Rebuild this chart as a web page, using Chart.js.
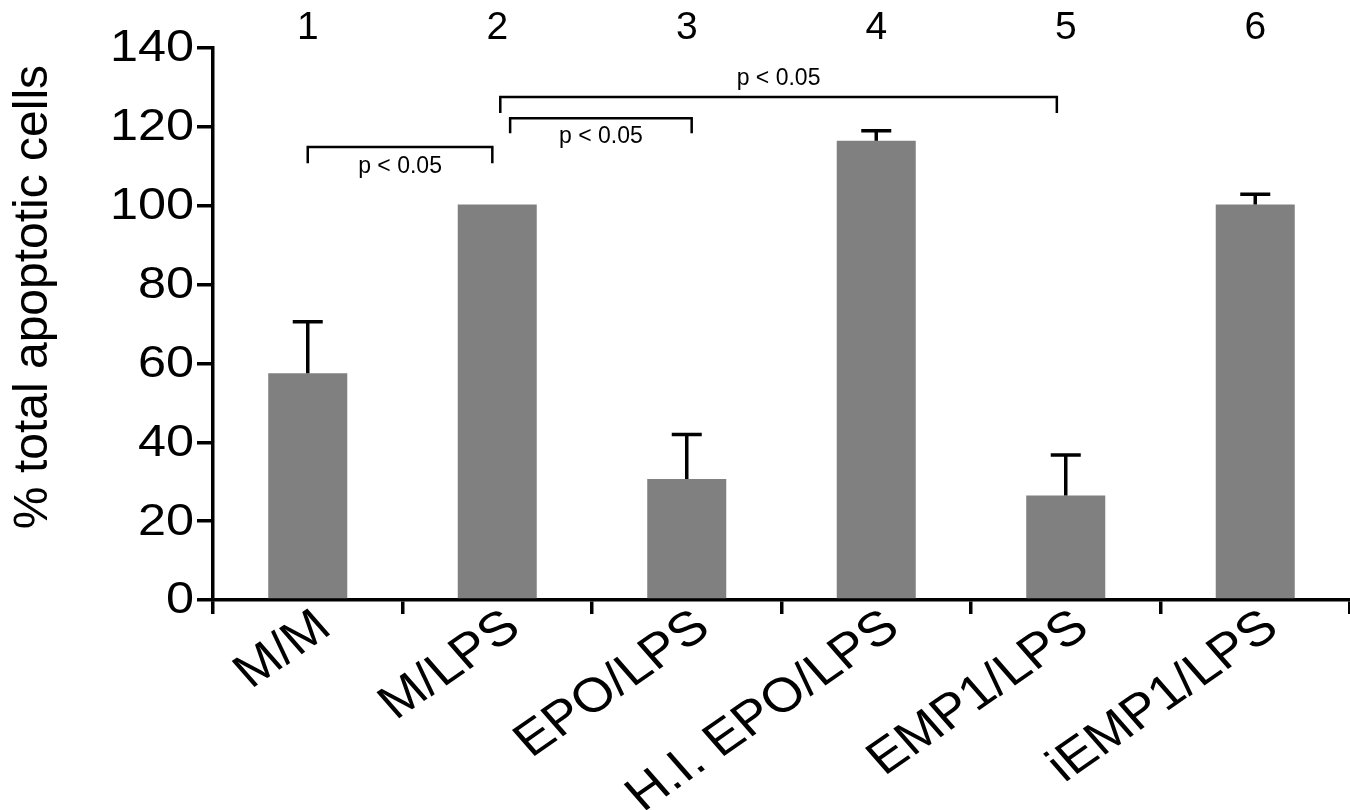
<!DOCTYPE html>
<html>
<head>
<meta charset="utf-8">
<script src="https://cdn.jsdelivr.net/npm/chart.js"></script>
<style>
html, body { margin: 0; padding: 0; background: #fff; }
canvas { display: block; }
</style>
</head>
<body>
<canvas id="chart" width="1350" height="810"></canvas>
<script>
const groups = ['M/M', 'M/LPS', 'EPO/LPS', 'H.I. EPO/LPS', 'EMP1/LPS', 'iEMP1/LPS'];
const groupNumbers = ['1', '2', '3', '4', '5', '6'];
const apoptosis = [57.5, 100.3, 30.7, 116.5, 26.5, 100.3];
const errorUpper = [70.6, 100.3, 42.0, 119.0, 36.8, 102.9];
const yTickValues = [0, 20, 40, 60, 80, 100, 120, 140];
const yTitle = '% total apoptotic cells';

// significance brackets, in category index / data units
const bracketFrom = [0, 1.068, 1.016];
const bracketTo = [0.974, 2.026, 3.953];
const bracketLine = [114.9, 122.2, 127.6];
const bracketLeg = [110.8, 118.4, 123.5];
const bracketText = [110.0, 117.4, 132.1];
const bracketLabel = ['p < 0.05', 'p < 0.05', 'p < 0.05'];

const FONT = '"Liberation Sans", Arial, Helvetica, sans-serif';
const STRETCH = 1.12; // the original figure is a bit wider than tall

const errorBars = {
    id: 'errorBars',
    afterDatasetsDraw(chart) {
        const ctx = chart.ctx;
        const y = chart.scales.y;
        const meta = chart.getDatasetMeta(0);
        ctx.save();
        ctx.strokeStyle = '#000';
        ctx.lineWidth = 3.5;
        meta.data.forEach((bar, i) => {
            if (errorUpper[i] <= apoptosis[i]) return;
            const top = y.getPixelForValue(errorUpper[i]);
            ctx.beginPath();
            ctx.moveTo(bar.x, bar.y);
            ctx.lineTo(bar.x, top);
            ctx.moveTo(bar.x - 15, top);
            ctx.lineTo(bar.x + 15, top);
            ctx.stroke();
        });
        ctx.restore();
    }
};

const brackets = {
    id: 'brackets',
    afterDatasetsDraw(chart) {
        const ctx = chart.ctx;
        const x = chart.scales.x, y = chart.scales.y;
        ctx.save();
        ctx.strokeStyle = '#000';
        ctx.lineWidth = 2.5;
        ctx.fillStyle = '#000';
        ctx.font = '23px ' + FONT;
        ctx.textAlign = 'center';
        ctx.textBaseline = 'middle';
        bracketLabel.forEach((label, i) => {
            const x1 = x.getPixelForValue(bracketFrom[i]);
            const x2 = x.getPixelForValue(bracketTo[i]);
            const yl = y.getPixelForValue(bracketLine[i]);
            const yg = y.getPixelForValue(bracketLeg[i]);
            ctx.beginPath();
            ctx.moveTo(x1, yg);
            ctx.lineTo(x1, yl);
            ctx.lineTo(x2, yl);
            ctx.lineTo(x2, yg);
            ctx.stroke();
            ctx.fillText(label, (x1 + x2) / 2, y.getPixelForValue(bracketText[i]));
        });
        ctx.restore();
    }
};

// tick labels and y title, drawn slightly stretched sideways like the source
const axisText = {
    id: 'axisText',
    afterDraw(chart) {
        const ctx = chart.ctx;
        const area = chart.chartArea;
        const x = chart.scales.x, y = chart.scales.y;
        ctx.save();
        ctx.fillStyle = '#000';

        ctx.font = '45px ' + FONT;
        ctx.textAlign = 'right';
        ctx.textBaseline = 'middle';
        y.ticks.forEach((t, i) => {
            ctx.save();
            ctx.translate(y.right - 19, y.getPixelForTick(i) + 1);
            ctx.scale(STRETCH, 1);
            ctx.fillText(String(t.value), 0, 0);
            ctx.restore();
        });

        ctx.font = '48px ' + FONT;
        ctx.textBaseline = 'alphabetic';
        const cap = 48 * 0.716;
        x.ticks.forEach((t, i) => {
            ctx.save();
            ctx.translate(x.getPixelForTick(i) + 2, x.top + 5);
            ctx.scale(STRETCH, 1);
            ctx.rotate(-38 * Math.PI / 180);
            ctx.fillText(groups[i], 0, cap);
            ctx.restore();
        });

        ctx.translate(y.left + 34, (area.top + area.bottom) / 2 - 27);
        ctx.rotate(-Math.PI / 2);
        ctx.font = '48px ' + FONT;
        ctx.textAlign = 'center';
        ctx.textBaseline = 'middle';
        ctx.fillText(yTitle, 0, 0);
        ctx.restore();
    }
};

new Chart(document.getElementById('chart'), {
    type: 'bar',
    data: {
        labels: groups,
        datasets: [{
            data: apoptosis,
            backgroundColor: '#808080',
            borderWidth: 0,
            categoryPercentage: 1,
            barPercentage: 0.417
        }]
    },
    options: {
        responsive: false,
        animation: false,
        devicePixelRatio: 1,
        layout: { padding: 0 },
        plugins: { legend: { display: false }, tooltip: { enabled: false } },
        scales: {
            x: {
                position: 'bottom',
                offset: true,
                border: { display: true, color: '#000', width: 3.5 },
                grid: { drawOnChartArea: false, offset: true, color: '#000', lineWidth: 3.5, tickLength: 14 },
                ticks: { display: false, autoSkip: false },
                afterFit(scale) { scale.height = 210; }
            },
            x2: {
                type: 'category',
                labels: groupNumbers,
                position: 'top',
                offset: true,
                border: { display: false },
                grid: { display: false, drawTicks: false },
                ticks: { color: '#000', font: { family: FONT, size: 39, lineHeight: 1 }, padding: 0 },
                afterFit(scale) { scale.height = 48; }
            },
            y: {
                min: 0,
                max: 140,
                afterBuildTicks(scale) { scale.ticks = yTickValues.map(v => ({ value: v })); },
                border: { display: true, color: '#000', width: 3.5 },
                grid: { drawOnChartArea: false, color: '#000', lineWidth: 3.5, tickLength: 16 },
                ticks: { display: false },
                afterFit(scale) { scale.width = 213; }
            }
        }
    },
    plugins: [errorBars, brackets, axisText]
});
</script>
</body>
</html>
